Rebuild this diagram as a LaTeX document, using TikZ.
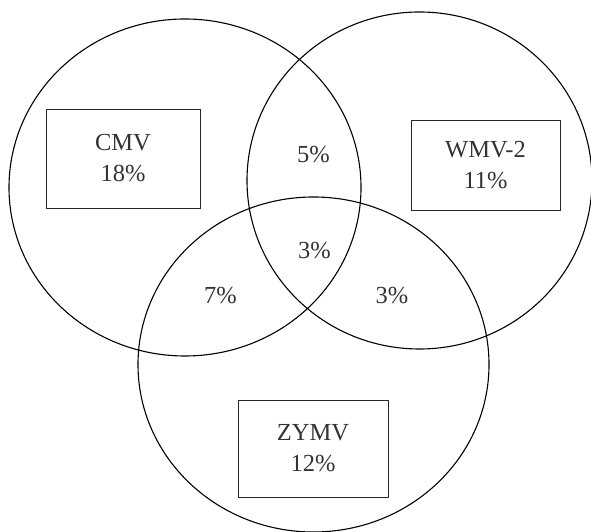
\documentclass[tikz,border=0pt]{standalone}
\usepackage{fontspec}
\setmainfont{Liberation Serif}
\begin{document}
\begin{tikzpicture}[x=1pt,y=1pt,
  set/.style={draw=black,line width=1.1pt},
  labelbox/.style={draw=black!85,line width=0.9pt,align=center,inner sep=0pt,
    font=\fontsize{24.5}{31}\selectfont,text=black!80},
  pct/.style={font=\fontsize{24.5}{31}\selectfont,text=black!80,inner sep=0pt}]
\useasboundingbox (0,0) rectangle (591,532);
\clip (0,0) rectangle (591,532);
\draw[set] (185,344.5) ellipse [x radius=176, y radius=168.5];
\draw[set] (419.5,351.5) ellipse [x radius=172.5, y radius=168.5];
\draw[set] (313.5,167.5) ellipse [x radius=175.5, y radius=167.5];
\node[labelbox,minimum width=154pt,minimum height=99pt] (cmv) at (123,373.5) {CMV\\18\%};
\node[labelbox,minimum width=149pt,minimum height=90pt] (wmv) at (485.5,367) {WMV-2\\11\%};
\node[labelbox,minimum width=150pt,minimum height=97pt] (zymv) at (313,83.5) {ZYMV\\12\%};
\node[pct] (cw) at (313.5,377) {5\%};
\node[pct] (all) at (314.5,281) {3\%};
\node[pct] (cz) at (220.5,236) {7\%};
\node[pct] (wz) at (392,236) {3\%};
\end{tikzpicture}
\end{document}
